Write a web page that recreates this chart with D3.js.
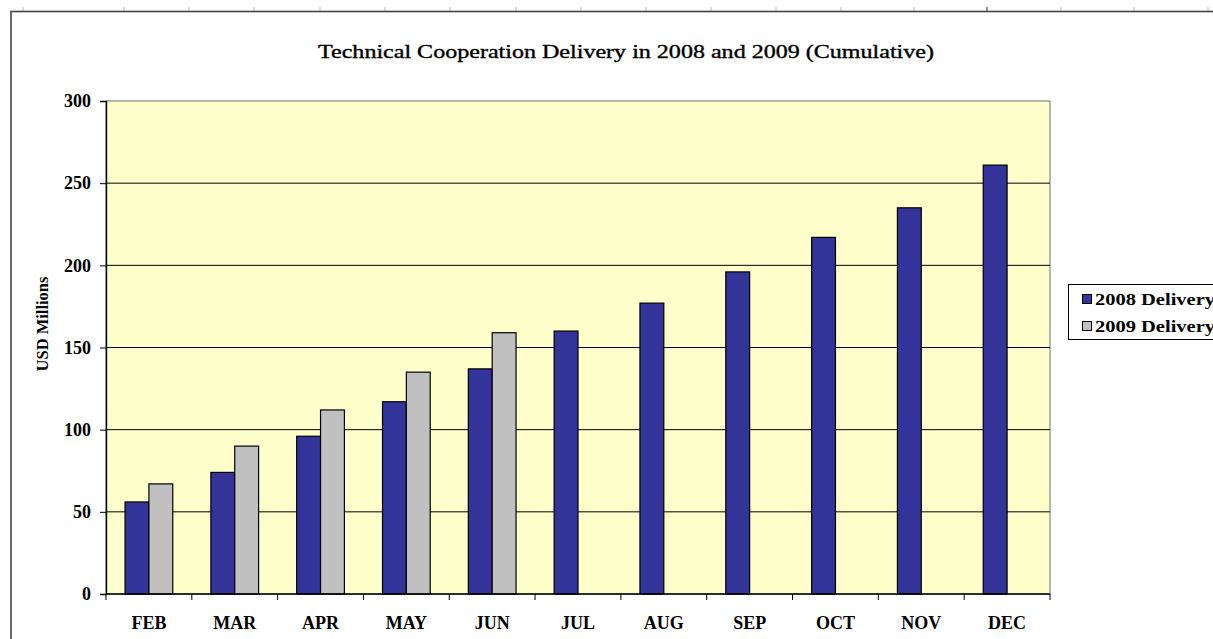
<!DOCTYPE html>
<html lang="en">
  <head>
    <meta charset="UTF-8" />
    <title>Technical Cooperation Delivery</title>
    <script src="https://d3js.org/d3.v7.min.js"></script>
    <style>
      body { margin: 0; background: #fff; }
      text { font-family: "Liberation Serif", "DejaVu Serif", serif; }
    </style>
  </head>
  <body>
    <script>
      // chart data
      const months = ["FEB","MAR","APR","MAY","JUN","JUL","AUG","SEP","OCT","NOV","DEC"];
      const series = ["2008 Delivery", "2009 Delivery"];
      const delivery2008 = [56, 74, 96, 117, 137, 160, 177, 196, 217, 235, 261];
      const delivery2009 = [67, 90, 112, 135, 159, null, null, null, null, null, null];
      const yTicks = [0, 50, 100, 150, 200, 250, 300];
      // page ruler marks above the chart frame (decoration)
      const rulerMarks = [23, 124, 189, 254, 320, 385, 450, 516, 581, 646, 711, 776, 841, 914, 987, 1061, 1134, 1208];

      const width = 1213;
      const height = 639;
      const colors = { "2008 Delivery": "#333399", "2009 Delivery": "#c0c0c0" };

      const svg = d3.select("body").append("svg")
        .attr("width", width)
        .attr("height", height);

      // ruler ticks
      svg.append("g").selectAll("line")
        .data(rulerMarks)
        .join("line")
        .attr("x1", d => d).attr("x2", d => d)
        .attr("y1", 7).attr("y2", 11)
        .attr("stroke", d => d === 987 ? "#222" : "#bbb")
        .attr("stroke-width", 1);

      // outer chart frame
      svg.append("rect")
        .attr("x", 11).attr("y", 11.5)
        .attr("width", 1400).attr("height", 800)
        .attr("fill", "#fff")
        .attr("stroke", "#444")
        .attr("stroke-width", 1.6);

      const plot = { left: 106, right: 1050, top: 101, bottom: 594 };

      const x = d3.scaleBand()
        .domain(months)
        .range([plot.left, plot.right])
        .paddingInner(0.444)
        .paddingOuter(0.222);
      const xs = d3.scaleBand()
        .domain(series)
        .range([0, x.bandwidth()]);
      const y = d3.scaleLinear()
        .domain([0, 300])
        .range([plot.bottom, plot.top]);

      // plot background
      svg.append("rect")
        .attr("x", plot.left).attr("y", plot.top)
        .attr("width", plot.right - plot.left)
        .attr("height", plot.bottom - plot.top)
        .attr("fill", "#ffffcc")
        .attr("stroke", "#888")
        .attr("stroke-width", 1.2);

      // gridlines
      svg.append("g").selectAll("line")
        .data(yTicks.filter(d => d > 0 && d < 300))
        .join("line")
        .attr("x1", plot.left).attr("x2", plot.right)
        .attr("y1", d => y(d)).attr("y2", d => y(d))
        .attr("stroke", "#000")
        .attr("stroke-width", 1);

      // bars
      const rows = months.map((m, i) => ({
        month: m,
        values: [
          { key: series[0], value: delivery2008[i] },
          { key: series[1], value: delivery2009[i] }
        ]
      }));
      svg.append("g").selectAll("g")
        .data(rows)
        .join("g")
        .attr("transform", d => `translate(${x(d.month)},0)`)
        .selectAll("rect")
        .data(d => d.values.filter(v => v.value != null))
        .join("rect")
        .attr("x", d => xs(d.key))
        .attr("y", d => y(d.value))
        .attr("width", xs.bandwidth())
        .attr("height", d => y(0) - y(d.value))
        .attr("fill", d => colors[d.key])
        .attr("stroke", "#000")
        .attr("stroke-width", 1.2);

      // y axis
      const yAxis = svg.append("g")
        .attr("transform", `translate(${plot.left},0)`)
        .call(d3.axisLeft(y).tickValues(yTicks).tickSizeOuter(0).tickSize(6).tickPadding(9));
      yAxis.attr("font-size", null).attr("font-family", null);
      yAxis.select(".domain").attr("stroke", "#000").attr("stroke-width", 1.4);
      yAxis.selectAll(".tick line").attr("stroke", "#000");
      yAxis.selectAll("text")
        .style("font-size", "18px")
        .style("font-weight", "bold")
        .attr("fill", "#000");

      // x axis: ticks at category boundaries
      const bounds = months.map(m => x(m) - x.step() * x.paddingOuter());
      bounds.push(plot.right);
      svg.append("line")
        .attr("x1", plot.left).attr("x2", plot.right)
        .attr("y1", plot.bottom).attr("y2", plot.bottom)
        .attr("stroke", "#000").attr("stroke-width", 1.4);
      svg.append("g").selectAll("line")
        .data(bounds)
        .join("line")
        .attr("x1", d => d).attr("x2", d => d)
        .attr("y1", plot.bottom).attr("y2", plot.bottom + 6)
        .attr("stroke", "#000");
      svg.append("g").selectAll("text")
        .data(months)
        .join("text")
        .attr("x", d => x(d) + x.bandwidth() / 2)
        .attr("y", 629)
        .attr("text-anchor", "middle")
        .attr("font-size", 18)
        .attr("font-weight", "bold")
        .text(d => d);

      // y label
      svg.append("text")
        .attr("transform", "translate(48,324) rotate(-90)")
        .attr("text-anchor", "middle")
        .attr("font-size", 16.5)
        .attr("font-weight", "bold")
        .text("USD Millions");

      // title
      svg.append("text")
        .attr("x", 626)
        .attr("y", 58)
        .attr("text-anchor", "middle")
        .attr("font-size", 18)
        .attr("textLength", 616)
        .attr("lengthAdjust", "spacingAndGlyphs")
        .attr("stroke", "#000")
        .attr("stroke-width", 0.35)
        .text("Technical Cooperation Delivery in 2008 and 2009 (Cumulative)");

      // legend
      const legend = svg.append("g");
      legend.append("rect")
        .attr("x", 1068.5).attr("y", 284.5)
        .attr("width", 200).attr("height", 55)
        .attr("fill", "#fff")
        .attr("stroke", "#000")
        .attr("stroke-width", 1);
      const li = legend.selectAll("g")
        .data(series)
        .join("g")
        .attr("transform", (d, i) => `translate(1082,${299 + i * 27})`);
      li.append("rect")
        .attr("x", 0.5).attr("y", -4.5)
        .attr("width", 9).attr("height", 9)
        .attr("fill", d => colors[d])
        .attr("stroke", "#000");
      li.append("text")
        .attr("x", 13)
        .attr("y", 6)
        .attr("font-size", 17)
        .attr("font-weight", "bold")
        .attr("textLength", 120)
        .attr("lengthAdjust", "spacingAndGlyphs")
        .text(d => d);
    </script>
  </body>
</html>
